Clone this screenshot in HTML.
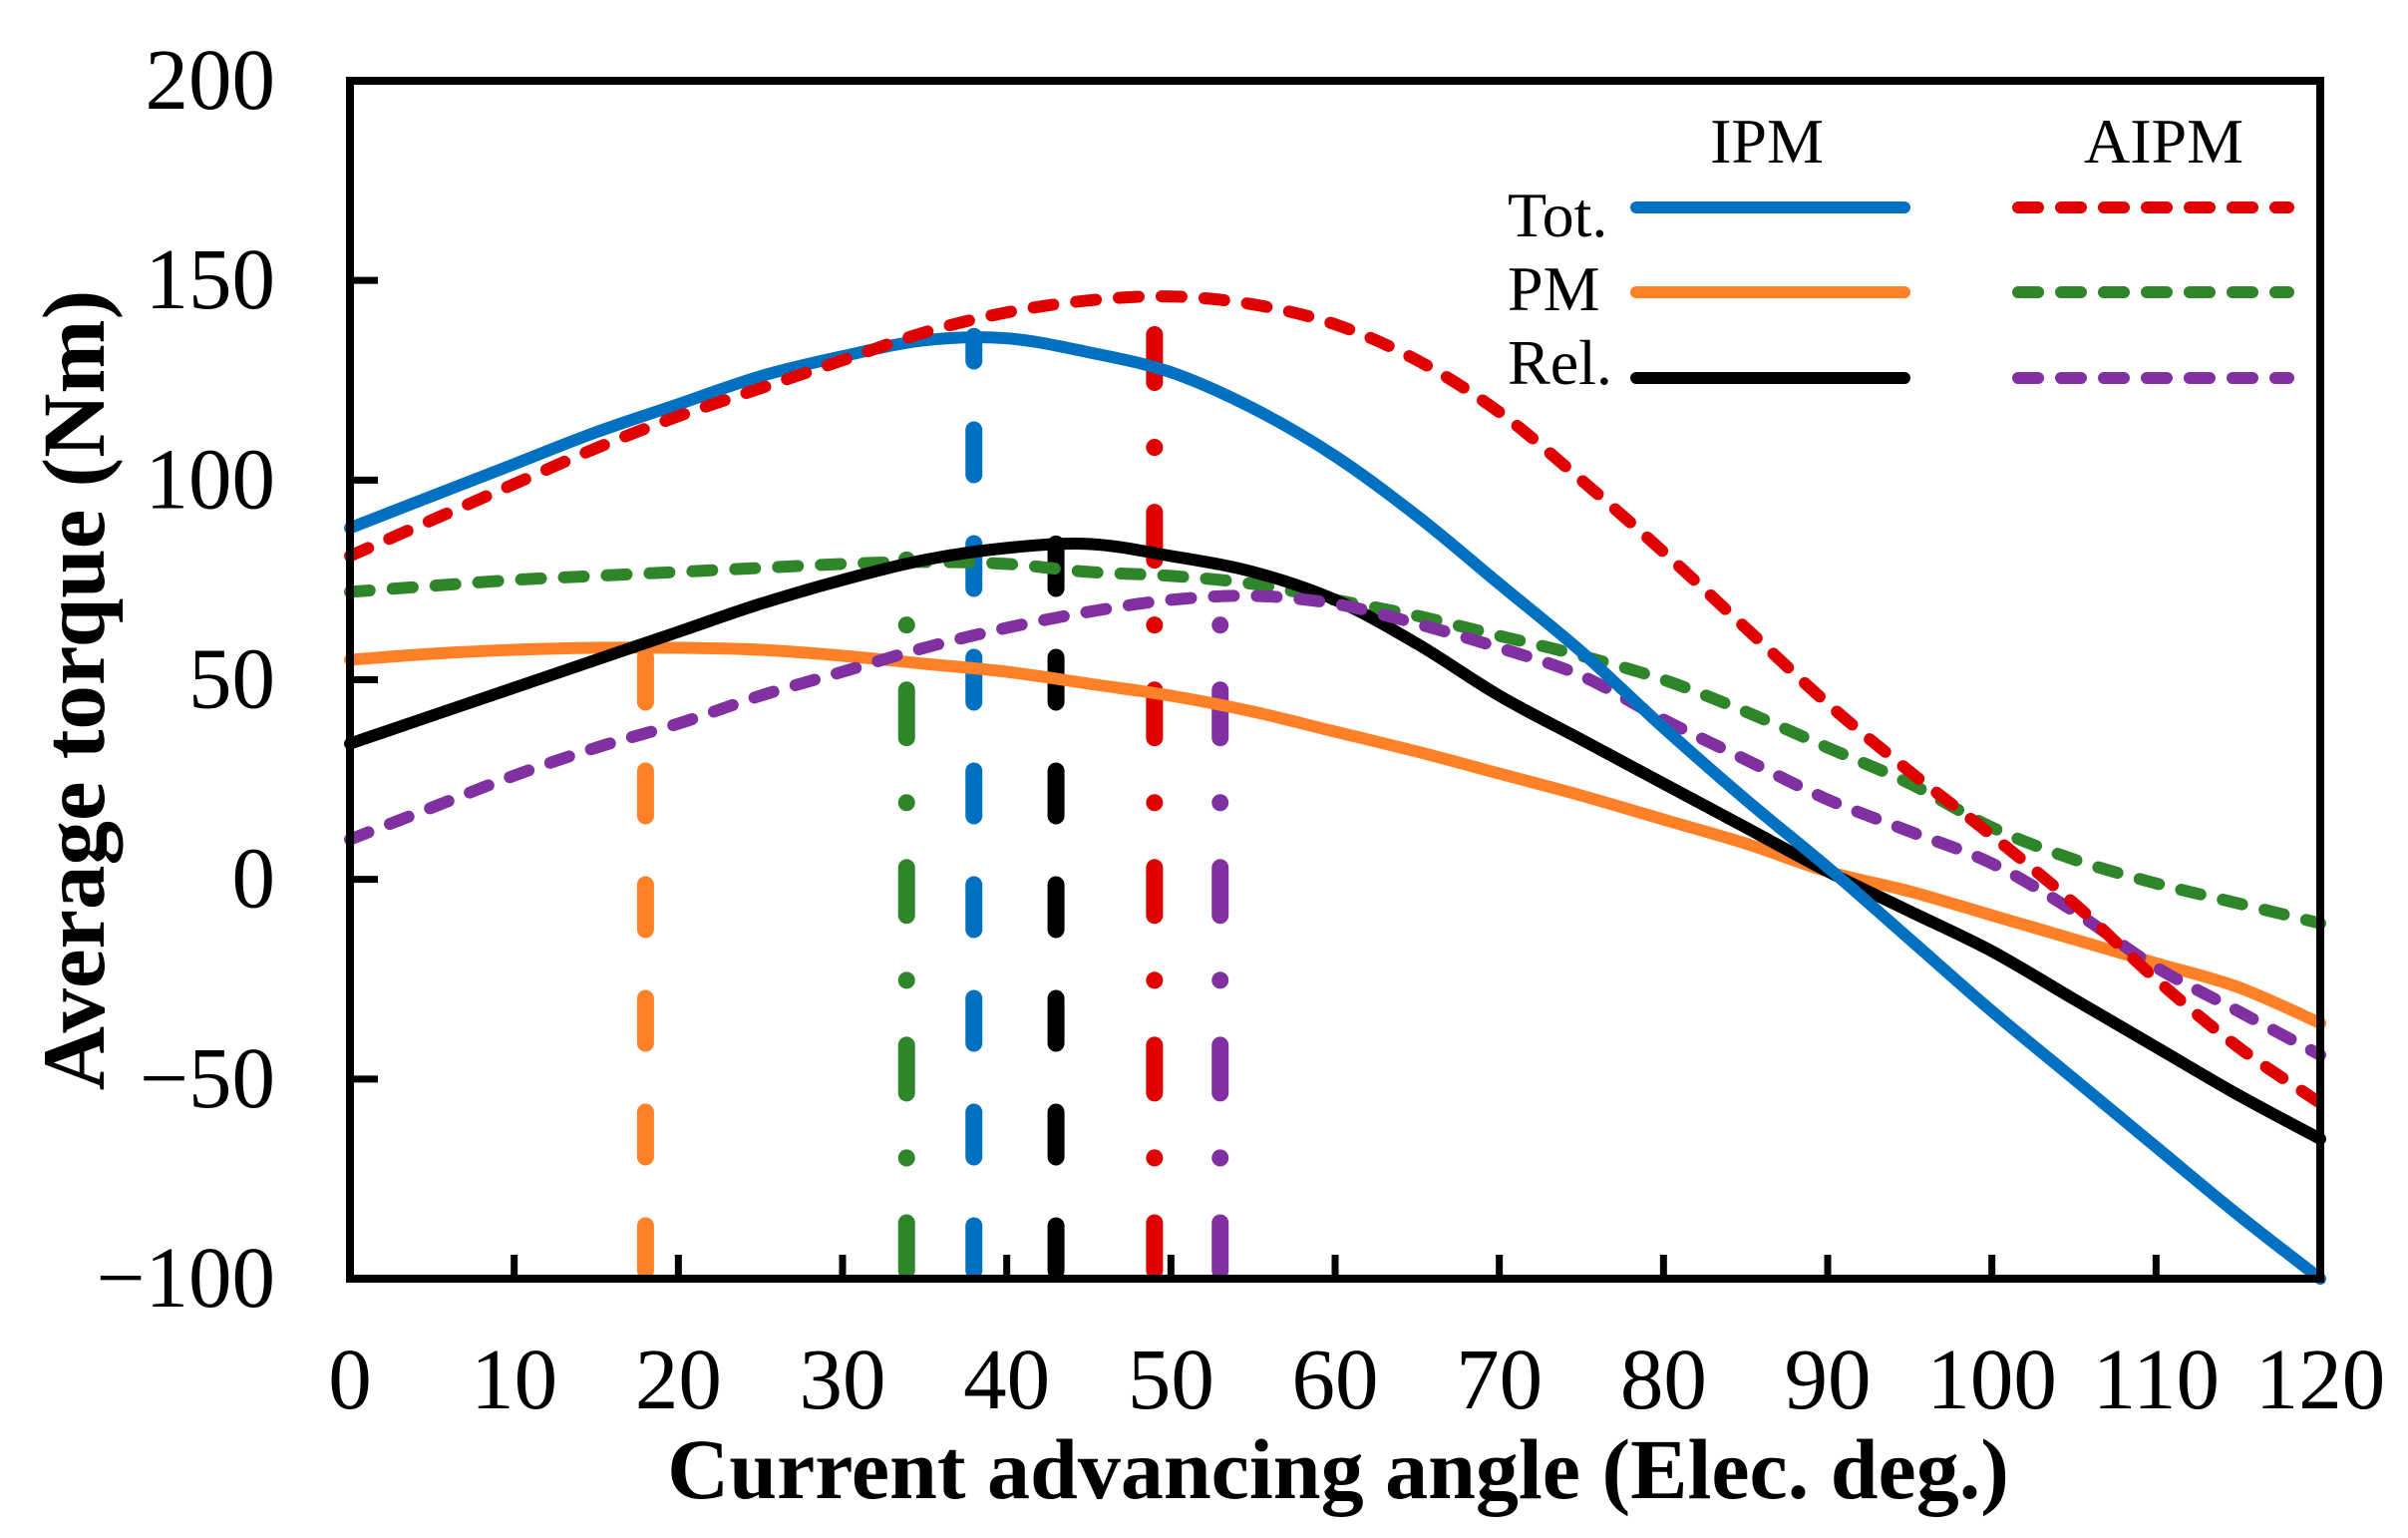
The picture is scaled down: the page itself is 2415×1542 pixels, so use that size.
<!DOCTYPE html>
<html><head><meta charset="utf-8"><style>
html,body{margin:0;padding:0;background:#fff}
svg{display:block}
text{font-family:"Liberation Serif","Times New Roman",serif;fill:#000}
</style></head><body>
<svg id="chart" width="2415" height="1542" viewBox="0 0 2415 1542" xmlns="http://www.w3.org/2000/svg">
<g id="series"></g>
<g id="axes"></g>
<g id="legend"></g>
</svg>
<script>
const angles = [0,5,10,15,20,25,30,35,40,45,50,55,60,65,70,75,80,85,90,95,100,105,110,115,120];
const ipmTot = [88,96,104,112,119,126,131,135,135.5,132,127,118,106,91,74,57,38,20,3,-15,-33,-50,-67,-84,-100];
const aipmTot = [81,90,99,108,116,123,130,137,142,145,146,144,139,130,117,100,82,63,44,27,11,-6,-25,-42,-56];
const ipmPM = [55,56.5,57.5,58,58,57.5,56,54,52,49,46,42,37,32,26.5,21,15,9,2,-3,-9,-15,-21,-27,-36];
const aipmPM = [72,73.5,75,76,77,78,79,79.5,79,77,76,74,70,66,61,56,50,42,33,24,13,5,-1,-6,-11];
const ipmRel = [34,41,48,55,62,69,75,80,83,84,81,77,70,59,46,35,24,13,2,-8,-18,-30,-42,-54,-65];
const aipmRel = [10,18,26,33,39,46,52,58,63,67,70,71,69,64,58,51,40,30,20,12,4,-8,-22,-33,-44];
const xTicks = [0,10,20,30,40,50,60,70,80,90,100,110,120];
const yTicks = [-100,-50,0,50,100,150,200];
const peakAngles = [18,33.9,38,43,49,53];
const peakValues = [58,80,136,84,137,71];

const NS="http://www.w3.org/2000/svg";
const L=351,R=2327,T=81,B=1282;
const sx=v=>L+(v-0)/(120-0)*(R-L);
const sy=v=>B-(v+100)/(300)*(B-T);
function mk(tag,attrs,parent){const e=document.createElementNS(NS,tag);for(const k in attrs)e.setAttribute(k,attrs[k]);parent.appendChild(e);return e;}
function smooth(p){let d='M'+p[0][0].toFixed(1)+','+p[0][1].toFixed(1);
  for(let i=0;i<p.length-1;i++){const p0=p[Math.max(0,i-1)],p1=p[i],p2=p[i+1],p3=p[Math.min(p.length-1,i+2)];
    const c1=[p1[0]+(p2[0]-p0[0])/6,p1[1]+(p2[1]-p0[1])/6],c2=[p2[0]-(p3[0]-p1[0])/6,p2[1]-(p3[1]-p1[1])/6];
    d+=' C'+c1[0].toFixed(1)+','+c1[1].toFixed(1)+' '+c2[0].toFixed(1)+','+c2[1].toFixed(1)+' '+p2[0].toFixed(1)+','+p2[1].toFixed(1);}
  return d;}
const gS=document.getElementById('series'),gA=document.getElementById('axes'),gL=document.getElementById('legend');

const vStyles=[
 {c:'#ff8026',d:'45 69'},{c:'#2e852a',d:'48 65 0.1 65'},{c:'#0070c0',d:'45 69'},
 {c:'#000',d:'45 69'},{c:'#e00000',d:'48 65 0.1 65'},{c:'#8030a0',d:'48 65 0.1 65'}];
const vNames=['ipm-pm-peak-line','aipm-pm-peak-line','ipm-tot-peak-line','ipm-rel-peak-line','aipm-tot-peak-line','aipm-rel-peak-line'];
peakAngles.forEach((a,i)=>{
  const e=mk('line',{x1:sx(a),x2:sx(a),y1:B-8,y2:sy(peakValues[i]),stroke:vStyles[i].c,'stroke-width':17,'stroke-linecap':'round','stroke-dasharray':vStyles[i].d},gS);
  
  
});

const series=[
 {v:ipmPM,c:'#ff8026',d:null,n:'ipm-pm-line'},
 {v:aipmPM,c:'#2e852a',d:'20 23',n:'aipm-pm-line'},
 {v:ipmRel,c:'#000',d:null,n:'ipm-rel-line'},
 {v:aipmRel,c:'#8030a0',d:'20 23',n:'aipm-rel-line'},
 {v:ipmTot,c:'#0070c0',d:null,n:'ipm-tot-line'},
 {v:aipmTot,c:'#e00000',d:'20 23',n:'aipm-tot-line'}];
series.forEach(s=>{
  const pts=angles.map((a,i)=>[sx(a),sy(s.v[i])]);
  const at={d:smooth(pts),fill:'none',stroke:s.c,'stroke-width':12,'stroke-linejoin':'round','stroke-linecap':'round'};
  if(s.d)at['stroke-dasharray']=s.d;
  const e=mk('path',at,gS);
  
  
});

const fr=mk('rect',{x:L,y:T,width:R-L,height:B-T,fill:'none',stroke:'#000','stroke-width':8},gA);


xTicks.forEach(t=>{
  if(t>0&&t<120){const tk=mk('line',{x1:sx(t),x2:sx(t),y1:B,y2:B-24,stroke:'#000','stroke-width':7},gA);
  
  }
  const tx=mk('text',{x:sx(t),y:1412,'text-anchor':'middle','font-size':87},gA);
  tx.textContent=t;
  
  
});
yTicks.forEach(t=>{
  if(t>-100&&t<200){const tk=mk('line',{x1:L,x2:L+28,y1:sy(t),y2:sy(t),stroke:'#000','stroke-width':7},gA);
  
  }
  const tx=mk('text',{x:276,y:sy(t)+28,'text-anchor':'end','font-size':87},gA);
  tx.textContent=t<0?'\u2212'+Math.abs(t):t;
  
  
});
const xt=mk('text',{x:1342,y:1502,'text-anchor':'middle','font-size':86,'font-weight':'bold'},gA);
xt.textContent='Current advancing angle (Elec. deg.)';


const yt=mk('text',{x:0,y:0,'text-anchor':'middle','font-size':89,'font-weight':'bold',transform:'translate(104,692) rotate(-90)'},gA);
yt.textContent='Average torque (Nm)';



const lh=[['IPM',1772],['AIPM',2170]];
lh.forEach(h=>{const e=mk('text',{x:h[1],y:163,'text-anchor':'middle','font-size':64},gL);e.textContent=h[0];

});
const rows=[['Tot.',237,208,'#0070c0','#e00000'],['PM',311,293,'#ff8026','#2e852a'],['Rel.',385,379,'#000','#8030a0']];
rows.forEach(r=>{
  const t=mk('text',{x:1512,y:r[1],'font-size':64},gL);t.textContent=r[0];
  
  
  const a=mk('line',{x1:1641,x2:1910,y1:r[2],y2:r[2],stroke:r[3],'stroke-width':12,'stroke-linecap':'round'},gL);
  
  
  const b=mk('line',{x1:2024,x2:2295,y1:r[2],y2:r[2],stroke:r[4],'stroke-width':12,'stroke-linecap':'round','stroke-dasharray':'20 23'},gL);
  
  
});
</script>
</body></html>
